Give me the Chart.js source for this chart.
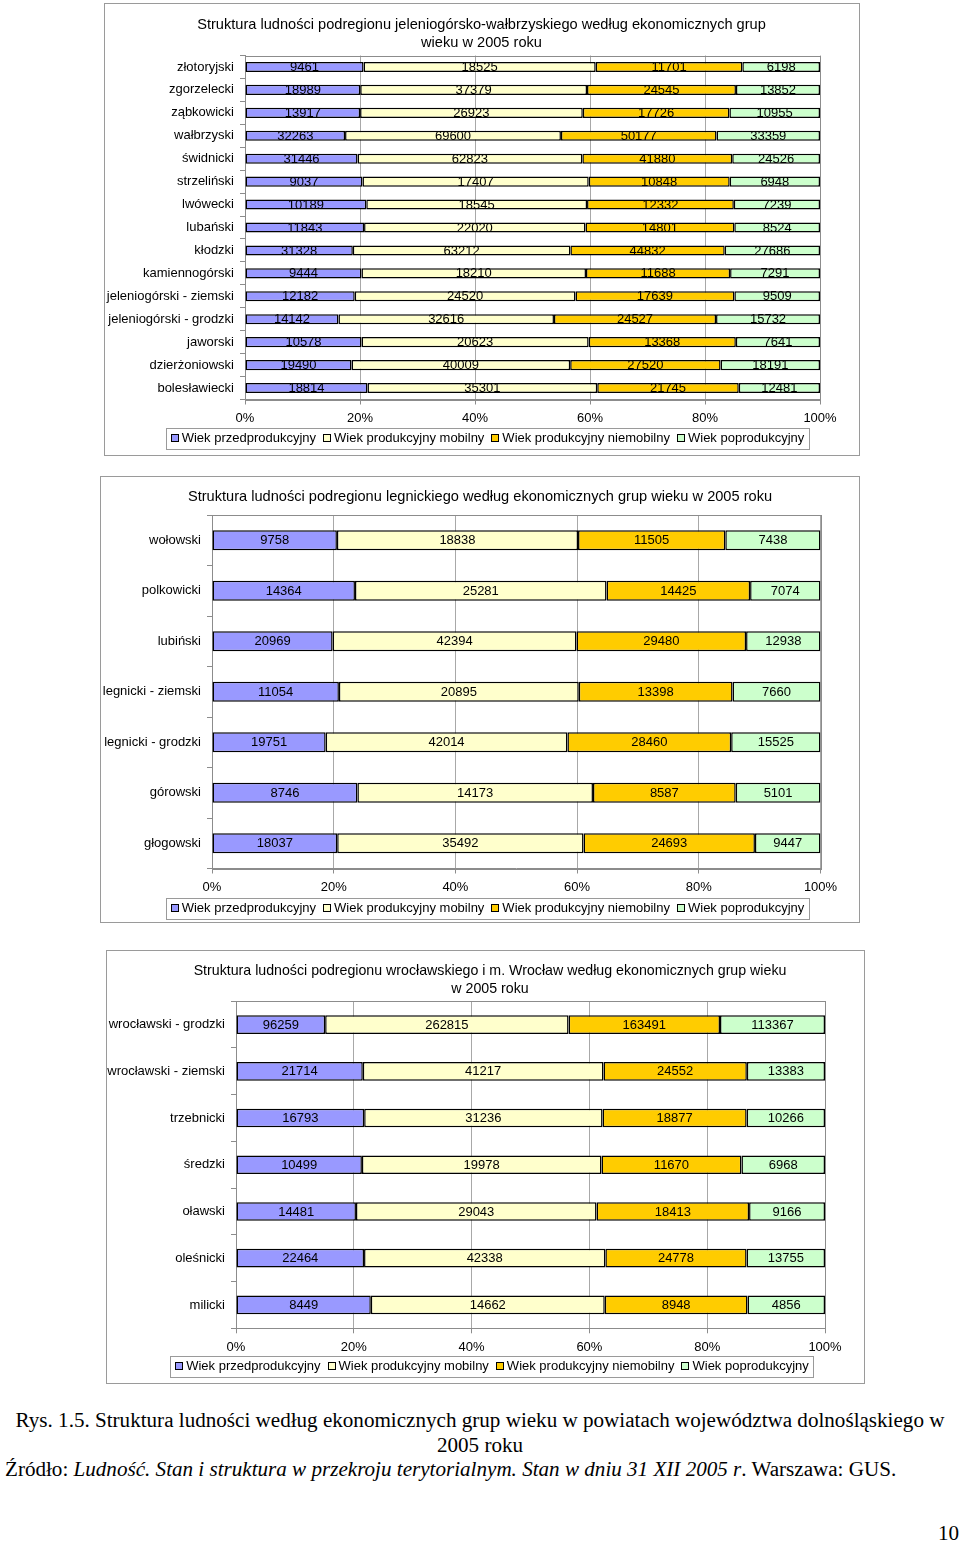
<!DOCTYPE html>
<html><head><meta charset="utf-8">
<script src="https://cdn.jsdelivr.net/npm/chart.js@4.4.0/dist/chart.umd.min.js"></script>
<style>
html,body{margin:0;padding:0;background:#fff;}
body{width:960px;height:1543px;position:relative;overflow:hidden;}
.frame{position:absolute;border:1px solid #9a9a9a;background:#fff;}
.frame canvas{display:block;}
.cap{position:absolute;font-family:'Liberation Serif','Times New Roman',serif;font-size:21.1px;color:#000;line-height:24.5px;white-space:nowrap;}
</style></head><body>
<div class="frame" style="left:104px;top:3px;width:754px;height:451px;"><canvas id="c1" width="754" height="451"></canvas></div>
<div class="frame" style="left:100px;top:476px;width:758px;height:445px;"><canvas id="c2" width="758" height="445"></canvas></div>
<div class="frame" style="left:106px;top:950px;width:757px;height:432px;"><canvas id="c3" width="757" height="432"></canvas></div>
<div class="cap" style="left:0;top:1408px;width:960px;text-align:center;">Rys. 1.5. Struktura ludności według ekonomicznych grup wieku w powiatach województwa dolnośląskiego w<br>2005 roku</div>
<div class="cap" style="left:5px;top:1457px;">Źródło: <i>Ludność. Stan i struktura w przekroju terytorialnym. Stan w dniu 31 XII 2005 r</i>. Warszawa: GUS.</div>
<div class="cap" style="right:1px;top:1521px;">10</div>
<script>
// ---- series names ----
const seriesNames = ['Wiek przedprodukcyjny', 'Wiek produkcyjny mobilny', 'Wiek produkcyjny niemobilny', 'Wiek poprodukcyjny'];
const seriesColors = ['#9999FF', '#FFFFCC', '#FFCC00', '#CCFFCC'];
const tickPercents = [0, 20, 40, 60, 80, 100];

// ---- chart 1: jeleniogórsko-wałbrzyski ----
const title1 = ['Struktura ludności podregionu jeleniogórsko-wałbrzyskiego według ekonomicznych grup', 'wieku w 2005 roku'];
const labels1 = ['złotoryjski', 'zgorzelecki', 'ząbkowicki', 'wałbrzyski', 'świdnicki', 'strzeliński', 'lwówecki', 'lubański', 'kłodzki', 'kamiennogórski', 'jeleniogórski - ziemski', 'jeleniogórski - grodzki', 'jaworski', 'dzierżoniowski', 'bolesławiecki'];
const przed1 = [9461, 18989, 13917, 32263, 31446, 9037, 10189, 11843, 31328, 9444, 12182, 14142, 10578, 19490, 18814];
const mobil1 = [18525, 37379, 26923, 69600, 62823, 17407, 18545, 22020, 63212, 18210, 24520, 32616, 20623, 40009, 35301];
const niemob1 = [11701, 24545, 17726, 50177, 41880, 10848, 12332, 14801, 44832, 11688, 17639, 24527, 13368, 27520, 21745];
const popro1 = [6198, 13852, 10955, 33359, 24526, 6948, 7239, 8524, 27686, 7291, 9509, 15732, 7641, 18191, 12481];

// ---- chart 2: legnicki ----
const title2 = 'Struktura ludności podregionu legnickiego według ekonomicznych grup wieku w 2005 roku';
const labels2 = ['wołowski', 'polkowicki', 'lubiński', 'legnicki - ziemski', 'legnicki - grodzki', 'górowski', 'głogowski'];
const przed2 = [9758, 14364, 20969, 11054, 19751, 8746, 18037];
const mobil2 = [18838, 25281, 42394, 20895, 42014, 14173, 35492];
const niemob2 = [11505, 14425, 29480, 13398, 28460, 8587, 24693];
const popro2 = [7438, 7074, 12938, 7660, 15525, 5101, 9447];

// ---- chart 3: wrocławski ----
const title3 = ['Struktura ludności podregionu wrocławskiego i m. Wrocław według ekonomicznych grup wieku', 'w 2005 roku'];
const labels3 = ['wrocławski - grodzki', 'wrocławski - ziemski', 'trzebnicki', 'średzki', 'oławski', 'oleśnicki', 'milicki'];
const przed3 = [96259, 21714, 16793, 10499, 14481, 22464, 8449];
const mobil3 = [262815, 41217, 31236, 19978, 29043, 42338, 14662];
const niemob3 = [163491, 24552, 18877, 11670, 18413, 24778, 8948];
const popro3 = [113367, 13383, 10266, 6968, 9166, 13755, 4856];

const FONT = "'Liberation Sans', Arial, sans-serif";
Chart.defaults.font.family = FONT;
Chart.defaults.color = '#000';

const valueLabels = {
  id: 'valueLabels',
  afterDatasetsDraw(chart) {
    const ctx = chart.ctx;
    ctx.save();
    ctx.font = '13px ' + FONT;
    ctx.fillStyle = '#000';
    ctx.textAlign = 'center';
    ctx.textBaseline = 'middle';
    chart.data.datasets.forEach((ds, i) => {
      const meta = chart.getDatasetMeta(i);
      meta.data.forEach((el, j) => {
        const p = el.getProps(['x', 'base', 'y'], true);
        ctx.fillText(String(ds.rawValues[j]), (p.x + p.base) / 2, p.y + 0.5);
      });
    });
    ctx.restore();
  }
};

const plotFrame = {
  id: 'plotFrame',
  afterLayout(chart, args, opts) {
    const t = chart.titleBlock;
    if (t && opts.titleCx != null) {
      const w = t.right - t.left;
      t.left = opts.titleCx - w / 2;
      t.right = opts.titleCx + w / 2;
    }
  },
  beforeDatasetsDraw(chart) {
    const a = chart.chartArea, ctx = chart.ctx;
    ctx.save();
    ctx.strokeStyle = '#8c8c8c';
    ctx.lineWidth = 1;
    ctx.strokeRect(Math.round(a.left) + 0.5, Math.round(a.top) + 0.5, Math.round(a.right - a.left), Math.round(a.bottom - a.top));
    ctx.restore();
  }
};

const customLegend = {
  id: 'customLegend',
  afterDraw(chart, args, opts) {
    const ctx = chart.ctx;
    ctx.save();
    ctx.font = '13px ' + FONT;
    const widths = seriesNames.map(n => ctx.measureText(n).width);
    const box = 8, g1 = 3, g2 = 7, padL = 5, padR = 4;
    const total = widths.reduce((s, w) => s + box + g1 + w, 0) + g2 * (widths.length - 1);
    let x = opts.cx - total / 2;
    const cy = opts.cy;
    ctx.strokeStyle = '#9a9a9a';
    ctx.lineWidth = 1;
    ctx.strokeRect(Math.round(x - padL) + 0.5, Math.round(cy - 10.5) + 0.5, Math.round(total + padL + padR), 21);
    ctx.textBaseline = 'middle';
    ctx.textAlign = 'left';
    seriesNames.forEach((n, i) => {
      const bx = Math.round(x), by = Math.round(cy - 4);
      ctx.fillStyle = seriesColors[i];
      ctx.fillRect(bx, by, box, box);
      ctx.strokeStyle = '#000';
      ctx.strokeRect(bx + 0.5, by + 0.5, box - 1, box - 1);
      ctx.fillStyle = '#000';
      ctx.fillText(n, x + box + g1, cy + 0.5);
      x += box + g1 + widths[i] + g2;
    });
    ctx.restore();
  }
};

function makeChart(id, title, labels, series, lay) {
  const totals = labels.map((_, j) => series.reduce((s, arr) => s + arr[j], 0));
  const datasets = series.map((arr, i) => ({
    label: seriesNames[i],
    data: arr.map((v, j) => v / totals[j] * 100),
    rawValues: arr,
    backgroundColor: seriesColors[i],
    borderColor: '#000',
    borderWidth: 1.5,
    borderSkipped: false,
    barPercentage: lay.barPct,
    categoryPercentage: 1
  }));
  return new Chart(document.getElementById(id), {
    type: 'bar',
    data: { labels, datasets },
    options: {
      indexAxis: 'y',
      responsive: false,
      animation: false,
      devicePixelRatio: 1,
      layout: { padding: { left: 0, right: lay.padRight, top: 0, bottom: lay.padBottom } },
      plugins: {
        title: {
          display: true, text: title, color: '#000',
          font: { size: lay.titleSize, weight: 'normal', lineHeight: 1.25 },
          padding: { top: lay.titleTop, bottom: lay.titleBottom }
        },
        legend: { display: false },
        plotFrame: { titleCx: lay.titleCx },
        customLegend: { cx: lay.legendCx, cy: lay.legendCy },
        tooltip: { enabled: false }
      },
      scales: {
        x: {
          stacked: true, min: 0, max: 100,
          afterBuildTicks: s => { s.ticks = tickPercents.map(v => ({ value: v })); },
          ticks: { callback: v => v + '%', padding: 6, color: '#000', font: { size: 13 }, maxRotation: 0 },
          grid: { color: '#a8a8a8', tickLength: 5, tickColor: '#8c8c8c' },
          border: { color: '#8c8c8c' },
          afterFit: s => { s.height = lay.xHeight; }
        },
        y: {
          stacked: true,
          ticks: { padding: 6, color: '#000', font: { size: 13 }, autoSkip: false },
          grid: { drawOnChartArea: false, tickLength: 5, color: '#8c8c8c', offset: true },
          border: { color: '#8c8c8c' },
          afterFit: s => { s.width = lay.yWidth; }
        }
      }
    },
    plugins: [plotFrame, valueLabels, customLegend]
  });
}

makeChart('c1', title1, labels1, [przed1, mobil1, niemob1, popro1],
  { barPct: 0.44, padRight: 39, padBottom: 27.5, titleSize: 14.6, titleTop: 11.5, titleBottom: 3.5, titleCx: 376.5,
    xHeight: 28, yWidth: 140, legendCx: 382.5, legendCy: 434 });
makeChart('c2', title2, labels2, [przed2, mobil2, niemob2, popro2],
  { barPct: 0.4, padRight: 38.5, padBottom: 24.5, titleSize: 14.6, titleTop: 11, titleBottom: 8.75, titleCx: 379,
    xHeight: 29, yWidth: 111, legendCx: 386.5, legendCy: 431 });
makeChart('c3', title3, labels3, [przed3, mobil3, niemob3, popro3],
  { barPct: 0.4, padRight: 39, padBottom: 27.5, titleSize: 14.2, titleTop: 11, titleBottom: 3.7, titleCx: 383,
    xHeight: 27.2, yWidth: 129, legendCx: 385, legendCy: 415 });
</script>
</body></html>
